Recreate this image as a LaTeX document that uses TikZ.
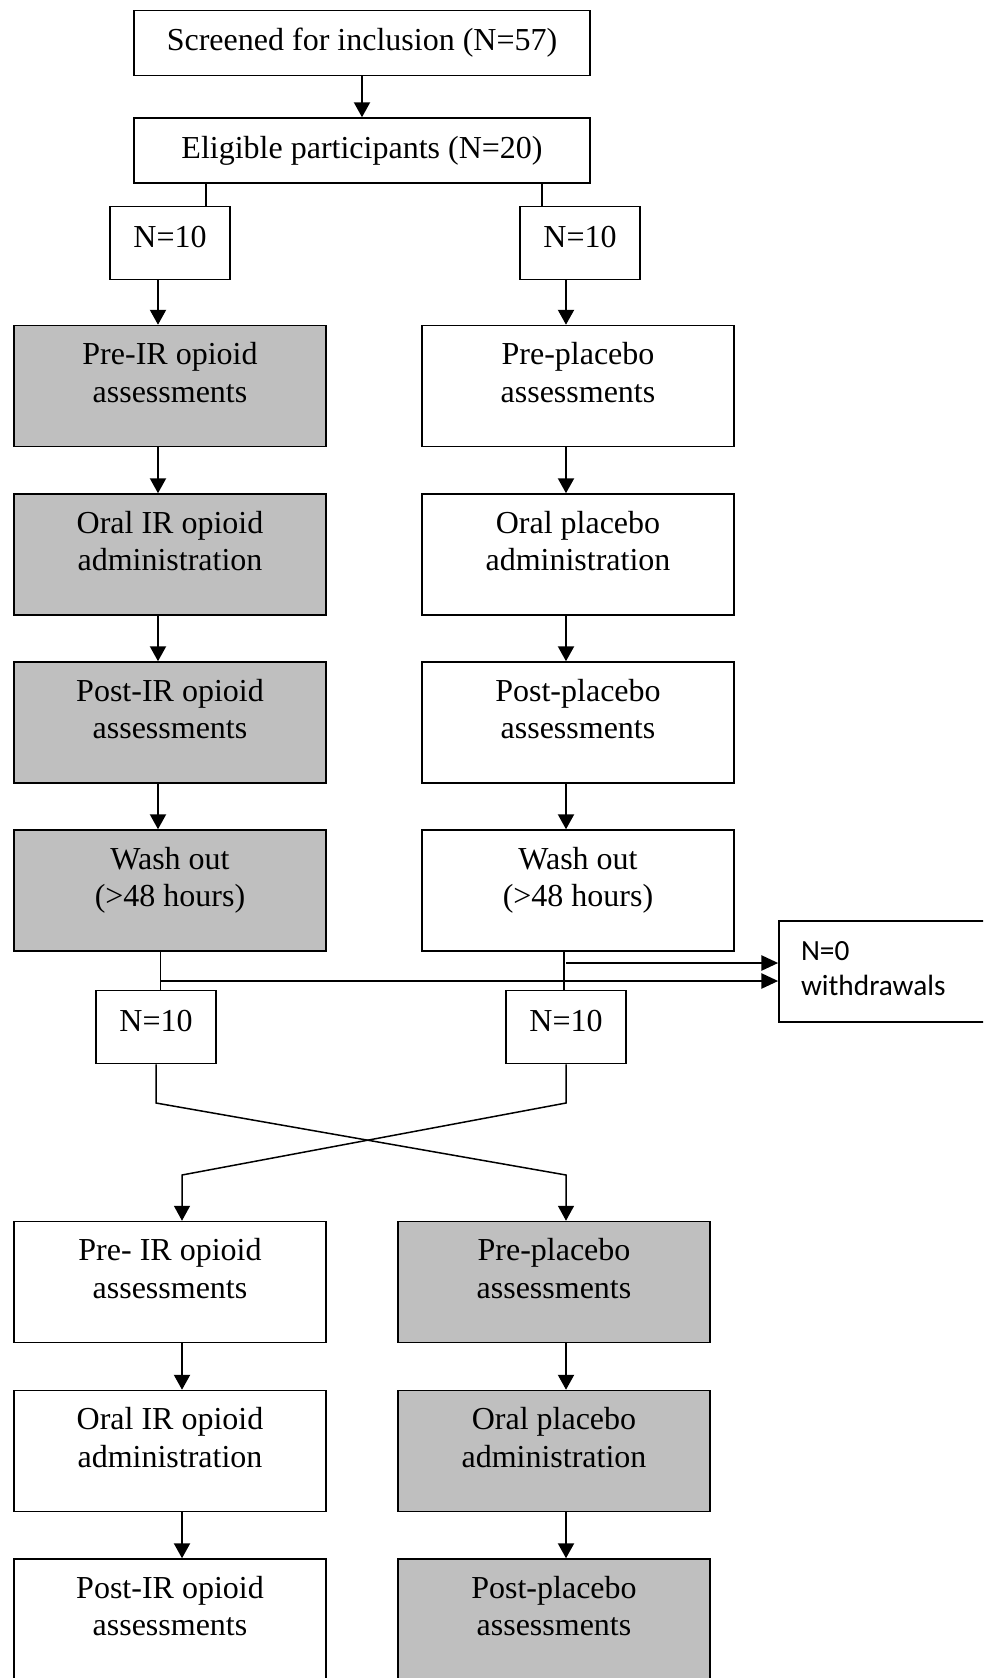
\documentclass[tikz,border=0pt]{standalone}
\usepackage{fontspec}
\setmainfont{Liberation Serif}
\newfontfamily\calfont{Carlito}
\usetikzlibrary{arrows.meta}
\definecolor{boxgray}{RGB}{191,191,191}
\newcommand{\fs}{\fontsize{32}{37.4}\selectfont}
\begin{document}
\begin{tikzpicture}[x=1pt, y=-1pt, line width=1.5pt,
  box/.style={draw, rectangle, inner sep=0pt, minimum width=312pt, minimum height=121pt},
  gbox/.style={box, fill=boxgray},
  nbox/.style={draw, rectangle, inner sep=0pt, minimum width=120pt, minimum height=73pt, font=\fs, text height=22pt, text depth=13pt},
  wide/.style={draw, rectangle, inner sep=0pt, minimum width=456pt, minimum height=65pt, font=\fs},
  txt/.style={font=\fs, align=center, inner sep=0pt, anchor=north},
  arr/.style={line width=2.2pt, -{Triangle[length=15pt,width=16pt]}},
  warr/.style={line width=2.8pt, -{Triangle[length=17pt,width=15pt]}}]
\useasboundingbox (0,0) rectangle (983,1678);
\clip (0,0) rectangle (983,1678);
\node[wide] (scr) at (362,43) {Screened for inclusion (N=57)};
\node[wide] (elig) at (362,150.5) {Eligible participants (N=20)};
\draw[arr] (scr) -- (elig);
\node[nbox] (nl0) at (170,243) {N=10};
\node[nbox] (nr0) at (580,243) {N=10};
\coordinate (sl) at (206,0);
\coordinate (sr) at (542,0);
\draw[line width=1.2pt] (elig.south -| sl) -- (nl0.north -| sl);
\draw[line width=1.2pt] (elig.south -| sr) -- (nr0.north -| sr);
\coordinate (cl) at (158,0);
\coordinate (cr) at (566,0);
% first period
\node[gbox] (pl1) at (170,386) {};
\node[txt] (tl1) at ([yshift=-17pt]pl1.north) {Pre-IR opioid\\assessments};
\node[box] (pr1) at (578,386) {};
\node[txt] (tr1) at ([yshift=-17pt]pr1.north) {Pre-placebo\\assessments};
\node[gbox] (pl2) at (170,554.5) {};
\node[txt] (tl2) at ([yshift=-17pt]pl2.north) {Oral IR opioid\\administration};
\node[box] (pr2) at (578,554.5) {};
\node[txt] (tr2) at ([yshift=-17pt]pr2.north) {Oral placebo\\administration};
\node[gbox] (pl3) at (170,722.5) {};
\node[txt] (tl3) at ([yshift=-17pt]pl3.north) {Post-IR opioid\\assessments};
\node[box] (pr3) at (578,722.5) {};
\node[txt] (tr3) at ([yshift=-17pt]pr3.north) {Post-placebo\\assessments};
\node[gbox] (pl4) at (170,890.5) {};
\node[txt] (tl4) at ([yshift=-17pt]pl4.north) {Wash out\\(>48 hours)};
\node[box] (pr4) at (578,890.5) {};
\node[txt] (tr4) at ([yshift=-17pt]pr4.north) {Wash out\\(>48 hours)};
\draw[arr] (nl0.south -| cl) -- (pl1.north -| cl);
\draw[arr] (nr0.south -| cr) -- (pr1.north -| cr);
\draw[arr] (pl1.south -| cl) -- (pl2.north -| cl);
\draw[arr] (pr1.south -| cr) -- (pr2.north -| cr);
\draw[arr] (pl2.south -| cl) -- (pl3.north -| cl);
\draw[arr] (pr2.south -| cr) -- (pr3.north -| cr);
\draw[arr] (pl3.south -| cl) -- (pl4.north -| cl);
\draw[arr] (pr3.south -| cr) -- (pr4.north -| cr);
% washout and withdrawals
\node[nbox] (nl5) at (156,1027) {N=10};
\node[nbox] (nr5) at (566,1027) {N=10};
\coordinate (dl) at (160.5,0);
\coordinate (dr) at (564,0);
\draw[line width=1.2pt] (pl4.south -| dl) -- (nl5.north -| dl);
\draw[line width=1.2pt] (pr4.south -| dr) -- (nr5.north -| dr);
\node[draw, rectangle, inner sep=0pt, minimum width=215pt, minimum height=101pt] (wd) at (886.5,971.5) {};
\node[font=\calfont\fontsize{29.3}{35.5}\selectfont, align=left, inner sep=0pt, anchor=north west] (wdt) at ([xshift=22pt,yshift=-20pt]wd.north west) {N=0\\withdrawals};
\coordinate (wu) at (566,963);
\coordinate (wl) at (160.5,981);
\draw[warr] (wu) -- (wu -| wd.west);
\draw[warr] (wl) -- (wl -| wd.west);
% crossover
\coordinate (kl) at (156,1103);
\coordinate (kr) at (566,1103);
\coordinate (ml) at (182,1175);
\coordinate (mr) at (566,1175);
\node[box] (pl5) at (170,1282) {};
\node[txt] (tl5) at ([yshift=-17pt]pl5.north) {Pre- IR opioid\\assessments};
\node[gbox] (pr5) at (554,1282) {};
\node[txt] (tr5) at ([yshift=-17pt]pr5.north) {Pre-placebo\\assessments};
\draw[arr, line width=1.5pt] (nl5.south) -- (kl) -- (mr) -- (pr5.north -| mr);
\draw[arr, line width=1.5pt] (nr5.south) -- (kr) -- (ml) -- (pl5.north -| ml);
% second period
\node[box] (pl6) at (170,1451) {};
\node[txt] (tl6) at ([yshift=-17pt]pl6.north) {Oral IR opioid\\administration};
\node[gbox] (pr6) at (554,1451) {};
\node[txt] (tr6) at ([yshift=-17pt]pr6.north) {Oral placebo\\administration};
\node[box] (pl7) at (170,1619.5) {};
\node[txt] (tl7) at ([yshift=-17pt]pl7.north) {Post-IR opioid\\assessments};
\node[gbox] (pr7) at (554,1619.5) {};
\node[txt] (tr7) at ([yshift=-17pt]pr7.north) {Post-placebo\\assessments};
\draw[arr] (pl5.south -| ml) -- (pl6.north -| ml);
\draw[arr] (pr5.south -| mr) -- (pr6.north -| mr);
\draw[arr] (pl6.south -| ml) -- (pl7.north -| ml);
\draw[arr] (pr6.south -| mr) -- (pr7.north -| mr);
\end{tikzpicture}
\end{document}
